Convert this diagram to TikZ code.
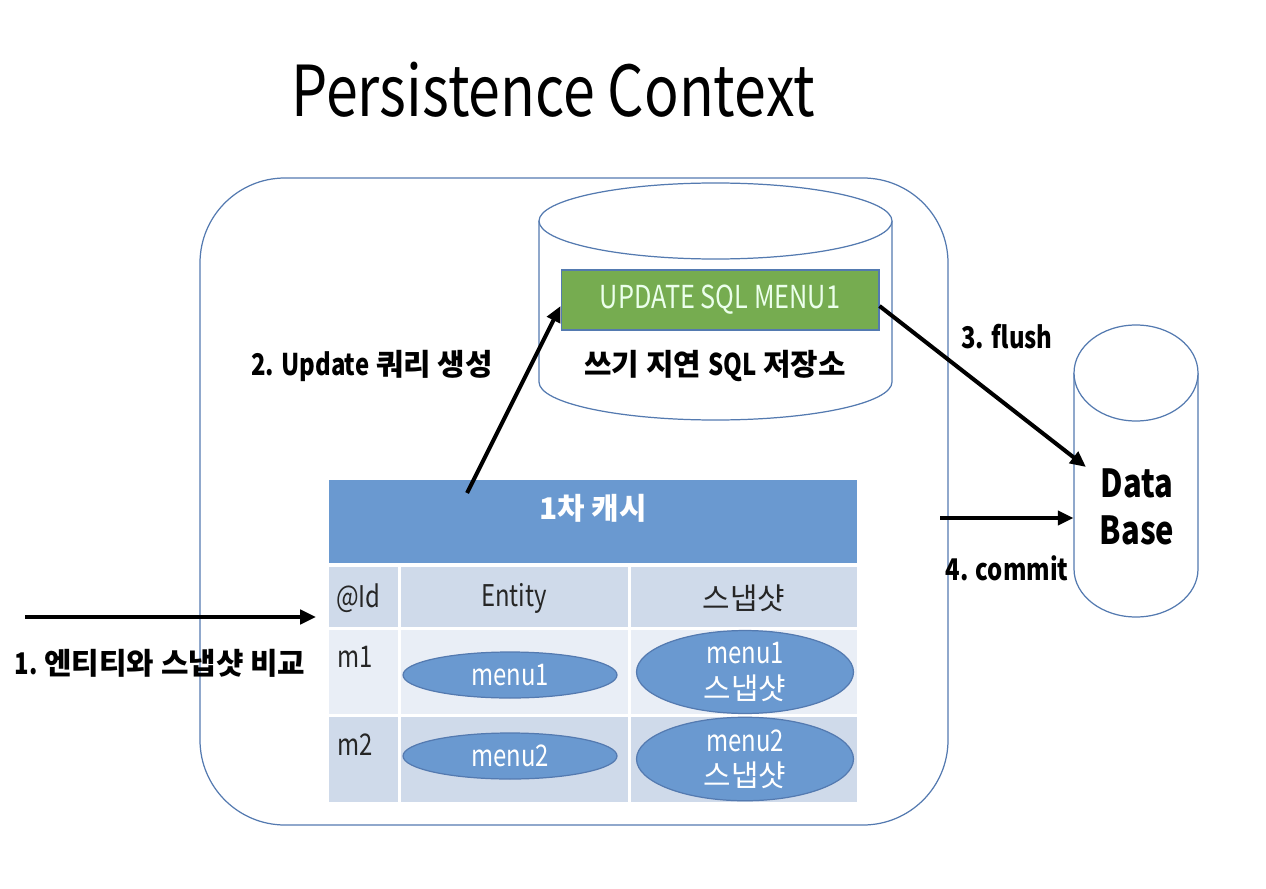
\documentclass[tikz,border=0pt]{standalone}
\usepackage{fontspec}
\setmainfont{Noto Sans CJK KR}
\usetikzlibrary{arrows.meta,positioning,shapes.geometric,calc}

\definecolor{cacheblue}{RGB}{106,153,208}
\definecolor{rowdark}{RGB}{207,218,234}
\definecolor{rowlight}{RGB}{233,238,246}
\definecolor{sqlgreen}{RGB}{118,172,80}
\definecolor{edgeblue}{RGB}{84,122,176}
\definecolor{txtdark}{RGB}{38,38,38}
\newcommand{\nrw}[1]{\scalebox{0.8}[1]{#1}}

\begin{document}
\begin{tikzpicture}[x=0.02cm, y=0.02cm,
  ttl/.style={font=\fontsize{40}{48}\selectfont},
  lbl/.style={font=\fontsize{17}{20}\selectfont\bfseries, inner sep=0pt},
  cyl/.style={draw=edgeblue, line width=0.7pt, fill=white},
  cell/.style={rectangle, inner sep=0pt, anchor=north west},
  celltxt/.style={font=\fontsize{17}{20}\selectfont, text=txtdark, inner sep=0pt},
  ell/.style={ellipse, draw=edgeblue, line width=0.7pt, fill=cacheblue, inner sep=0pt,
    align=center, text=white, font=\fontsize{17}{20}\selectfont},
  sqlbox/.style={draw=edgeblue, line width=0.6pt, fill=sqlgreen, rectangle, inner sep=0pt,
    minimum width=6.36cm, minimum height=1.2cm, text=white!92!green, font=\fontsize{18}{20}\selectfont},
  ar/.style={-{Triangle[length=9pt,width=8pt]}, line width=2.3pt},
]
\useasboundingbox (0,0) rectangle (1266,-888);

%==== Judul ====
\node[ttl] (title) at (553,-90) {\scalebox{0.815}[1]{Persistence Context}};

%==== Persistence context ====
\draw[draw=edgeblue, line width=0.7pt, rounded corners=1.7cm] (200,-178) rectangle (948,-825);

%==== Write-behind SQL store ====
\draw[cyl] (539,-221) -- (539,-382) arc[start angle=180, end angle=360, x radius=176.5, y radius=38] -- (892,-221);
\draw[cyl] (715.5,-221) ellipse[x radius=176.5, y radius=38];
\node[sqlbox] (sql) at (720,-300) {\nrw{UPDATE SQL MENU1}};
\node[lbl] (store) at (715,-366) {쓰기 지연 \nrw{SQL} 저장소};

%==== Data Base ====
\draw[cyl] (1074,-373) -- (1074,-569) arc[start angle=180, end angle=360, x radius=62, y radius=48] -- (1198,-373);
\draw[cyl] (1136,-373) ellipse[x radius=62, y radius=48];
\node[inner sep=0pt, minimum width=2.48cm, minimum height=5.88cm] (dbcyl) at (1136,-471) {};
\node[lbl, font=\fontsize{22}{27}\selectfont\bfseries, align=center] (db) at (1137,-507) {\nrw{Data}\\\nrw{Base}};

%==== 1st level cache ====
\node[cell, fill=cacheblue, minimum width=10.56cm, minimum height=1.66cm] (cache) at (329,-480) {};
\node[lbl, text=white] (cachelbl) at (593,-508) {1차 캐시};
\foreach \r/\top/\h/\col in {0/567/1.2/rowdark, 1/630/1.68/rowlight, 2/717/1.7/rowdark} {
  \node[cell, fill=\col, minimum width=1.38cm, minimum height=\h cm] (r\r a) at (329,-\top) {};
  \node[cell, fill=\col, minimum width=4.54cm, minimum height=\h cm] (r\r b) at (401,-\top) {};
  \node[cell, fill=\col, minimum width=4.52cm, minimum height=\h cm] (r\r c) at (631,-\top) {};
}
\node[celltxt, anchor=west] (tid) at (336,-598) {\nrw{@Id}};
\node[celltxt] (tent) at (514,-598) {\nrw{Entity}};
\node[celltxt] (tsnap) at (744,-598) {스냅샷};
\node[celltxt, anchor=west] (tm1) at (337,-657) {\nrw{m1}};
\node[celltxt, anchor=west] (tm2) at (337,-745) {\nrw{m2}};

\node[ell, minimum width=4.28cm, minimum height=0.92cm] (ent1) at (510,-675) {\nrw{menu1}};
\node[ell, minimum width=4.34cm, minimum height=1.62cm] (snap1) at (745,-672) {\nrw{menu1}\\스냅샷};
\node[ell, minimum width=4.28cm, minimum height=0.92cm] (ent2) at (510,-756) {\nrw{menu2}};
\node[ell, minimum width=4.34cm, minimum height=1.62cm] (snap2) at (745,-759) {\nrw{menu2}\\스냅샷};

%==== Arrows ====
\coordinate (cmpstart) at (25,-617);
\coordinate (cmpend) at (316,-617);
\draw[ar] (cmpstart) -- (cmpend);
\node[lbl] (cmplbl) at (160,-663) {\nrw{1.} 엔티티와 스냅샷 비교};

\coordinate (updstart) at (467,-493);
\draw[ar] (updstart) -- ($(sql.west)+(0,-6)$);
\node[lbl] (updlbl) at (372,-366) {\nrw{2. Update} 쿼리 생성};

\coordinate (dbin) at (1086,-467);
\draw[ar] ($(sql.east)+(0,-6)$) -- (dbin);
\node[lbl] (flushlbl) at (1007,-337) {\nrw{3. flush}};

\coordinate (comstart) at (940,-518);
\draw[ar] (comstart) -- (dbcyl.west |- comstart);
\node[lbl] (comlbl) at (1007,-568) {\nrw{4. commit}};

\end{tikzpicture}
\end{document}
